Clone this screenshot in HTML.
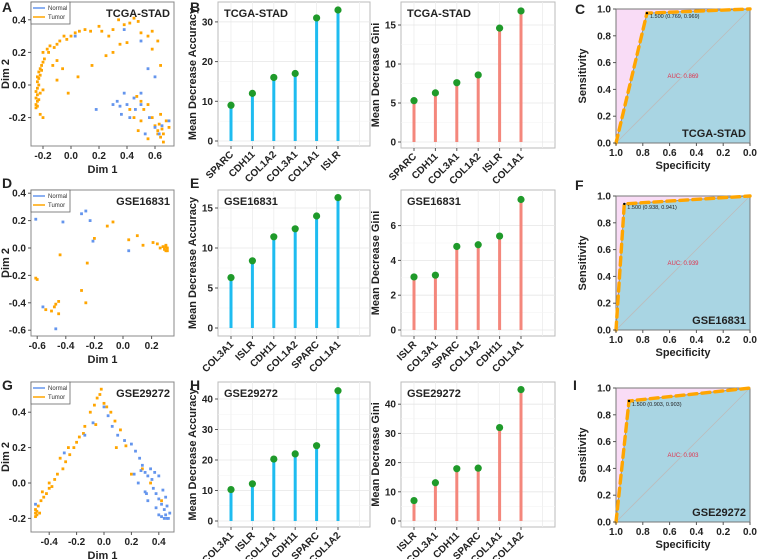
<!DOCTYPE html>
<html><head><meta charset="utf-8"><style>
body{margin:0;background:#fff}
svg{display:block;font-family:"Liberation Sans",Arial,sans-serif}
.t{font-weight:bold;fill:#222}
</style></head><body>
<svg id="fig" width="758" height="559" viewBox="0 0 758 559" xmlns="http://www.w3.org/2000/svg"></svg>
<script>
// ---------- data ----------
const catsB = ["SPARC","CDH11","COL1A2","COL3A1","COL1A1","ISLR"];
const valsB = [9,12,16,17,31,33];
const catsG1 = ["SPARC","CDH11","COL3A1","COL1A2","ISLR","COL1A1"];
const valsG1 = [5.3,6.3,7.6,8.6,14.6,16.8];
const catsE = ["COL3A1","ISLR","CDH11","COL1A2","SPARC","COL1A1"];
const valsE = [6.3,8.4,11.4,12.4,14,16.3];
const catsG2 = ["ISLR","COL3A1","SPARC","COL1A2","CDH11","COL1A1"];
const valsG2 = [3.05,3.15,4.8,4.9,5.4,7.5];
const catsH = ["COL3A1","ISLR","COL1A1","CDH11","SPARC","COL1A2"];
const valsH = [10.3,12.2,20.3,22,24.7,42.7];
const catsG3 = ["ISLR","COL3A1","CDH11","SPARC","COL1A1","COL1A2"];
const valsG3 = [7,13.1,17.9,18.1,32,45];
const ticksB=[0,10,20,30], ticksG1=[0,5,10,15], ticksE=[0,5,10,15], ticksG2=[0,2,4,6], ticksH=[0,10,20,30,40], ticksG3=[0,10,20,30,40];
const rocC_spec=[1,0.769,0], rocC_sens=[0,0.969,1];
const rocF_spec=[1,0.938,0], rocF_sens=[0,0.941,1];
const rocI_spec=[1,0.903,0], rocI_sens=[0,0.903,1];
const rocTicks=[0,0.2,0.4,0.6,0.8,1.0];
const tumorA=[[-0.25,-0.14],[-0.25,-0.12],[-0.24,-0.1],[-0.25,-0.08],[-0.24,-0.06],[-0.25,-0.04],[-0.24,-0.02],[-0.23,0],[-0.24,0.02],[-0.23,0.04],[-0.22,0.06],[-0.23,0.08],[-0.22,0.1],[-0.21,0.12],[-0.2,0.14],[-0.19,0.16],[-0.2,0.2],[-0.17,0.22],[-0.15,0.24],[-0.12,0.23],[-0.1,0.25],[-0.08,0.27],[-0.05,0.3],[-0.03,0.28],[0,0.3],[0.03,0.32],[0.06,0.33],[0.1,0.34],[0.14,0.33],[0.2,0.36],[0.22,0.33],[0.27,0.3],[0.3,0.34],[0.34,0.4],[0.38,0.37],[0.42,0.38],[0.45,0.41],[0.48,0.39],[0.5,0.32],[0.55,0.3],[0.58,0.33],[0.62,0.27],[0.64,0.12],[0.58,0.22],[0.4,0.26],[0.3,0.2],[0.25,0.18],[-0.1,0.15],[-0.13,0.12],[-0.06,0.1],[0.05,0.05],[-0.1,0.03],[-0.2,-0.03],[-0.22,-0.18],[-0.2,-0.2],[-0.02,-0.05],[0.47,-0.07],[0.5,-0.1],[0.52,-0.15],[0.45,-0.2],[0.5,-0.22],[0.55,-0.12],[0.58,-0.2],[0.6,-0.25],[0.62,-0.3],[0.64,-0.32],[0.66,-0.3],[0.68,-0.22],[0.66,-0.35],[0.62,-0.28],[0.55,-0.33],[0.48,-0.28],[0.7,-0.26],[0.64,-0.18],[0.42,-0.15],[-0.16,0.2],[0.15,0.12],[0.35,0.25],[-0.24,-0.13],[-0.23,-0.09],[-0.22,-0.05],[-0.24,0.05],[-0.21,0.09],[0.63,-0.24],[0.65,-0.27]];
const normalA=[[0.03,0.3],[0.38,0.34],[0.5,0.27],[0.55,0.1],[0.6,0.05],[0.5,-0.05],[0.38,-0.05],[0.45,-0.08],[0.33,-0.1],[0.3,-0.12],[0.4,-0.12],[0.46,-0.15],[0.36,-0.18],[0.42,-0.2],[0.5,-0.12],[0.56,-0.2],[0.6,-0.26],[0.65,-0.25],[0.53,-0.3],[0.63,-0.3],[0.7,-0.22],[0.18,-0.15],[0.35,-0.13]];
const normalD=[[-0.61,0.21],[-0.42,0.19],[-0.29,0.25],[-0.26,0.27],[-0.23,0.2],[-0.21,0.05],[0.04,-0.02],[-0.56,-0.43],[-0.47,-0.59]];
const tumorD=[[-0.11,0.16],[-0.07,0.19],[-0.2,0.07],[0.04,0.06],[0.1,0.09],[0.14,0.02],[0.21,0.04],[0.24,0.03],[0.26,0],[0.28,0.01],[0.29,-0.01],[0.3,0.02],[0.3,-0.02],[0.31,0],[0.31,-0.02],[0.3,0.01],[-0.44,-0.05],[-0.25,-0.11],[-0.61,-0.22],[-0.6,-0.23],[-0.29,-0.31],[-0.26,-0.4],[-0.54,-0.45],[-0.5,-0.46],[-0.48,-0.43],[-0.47,-0.41],[-0.45,-0.39],[-0.45,-0.48]];
const tumorG=[[-0.5,-0.19],[-0.5,-0.17],[-0.49,-0.18],[-0.5,-0.15],[-0.48,-0.13],[-0.46,-0.1],[-0.44,-0.08],[-0.42,-0.06],[-0.4,-0.03],[-0.38,-0.02],[-0.36,0.02],[-0.34,0.05],[-0.3,0.08],[-0.28,0.12],[-0.25,0.16],[-0.22,0.2],[-0.2,0.23],[-0.18,0.26],[-0.15,0.28],[-0.14,0.32],[-0.1,0.4],[-0.07,0.44],[-0.05,0.48],[-0.03,0.5],[-0.02,0.53],[0,0.45],[0.02,0.43],[0.05,0.4],[0.08,0.35],[0.12,0.3],[-0.26,0.2],[-0.32,0.14],[-0.4,0],[-0.45,-0.05],[0.09,0.2],[0.2,0.05],[0.28,0.08],[0.34,0.0],[0.42,-0.1],[-0.06,0.33],[0.16,0.21],[-0.49,-0.16],[-0.47,-0.17]];
const normalG=[[-0.5,-0.12],[-0.29,0.17],[-0.14,0.27],[-0.08,0.34],[0.0,0.43],[0.03,0.38],[0.06,0.32],[0.1,0.27],[0.15,0.24],[0.2,0.22],[0.23,0.18],[0.26,0.14],[0.28,0.1],[0.3,0.06],[0.32,0.04],[0.35,0.02],[0.36,-0.03],[0.38,-0.06],[0.4,-0.09],[0.42,-0.12],[0.44,-0.15],[0.45,-0.18],[0.46,-0.2],[0.47,-0.2],[0.44,-0.2],[0.42,-0.19],[0.48,-0.17],[0.4,-0.18],[0.38,-0.14],[0.32,-0.1],[0.3,-0.05],[0.25,0.0],[0.34,0.08],[0.4,0.04],[0.45,-0.08],[0.46,-0.13],[0.43,-0.04],[0.37,0.06],[0.27,0.07],[0.22,0.05],[0.31,-0.06]];
const xTicksA=[-0.2,0,0.2,0.4,0.6], yTicksA=[-0.2,0,0.2,0.4];
const xTicksD=[-0.6,-0.4,-0.2,0,0.2], yTicksD=[-0.6,-0.4,-0.2,0,0.2,0.4];
const xTicksG=[-0.4,-0.2,0,0.2,0.4], yTicksG=[-0.2,0,0.2,0.4];

// ---------- helpers ----------
const svg=document.getElementById('fig');
const NS='http://www.w3.org/2000/svg';
function el(tag,attrs,parent,text){const e=document.createElementNS(NS,tag);for(const k in attrs)e.setAttribute(k,attrs[k]);if(text!==undefined)e.textContent=text;(parent||svg).appendChild(e);return e;}
function fmt(v){return v.toFixed(1);}

function panelLabel(ch,x,y){const t=el('text',{x:x,y:y,'font-size':14,class:'t'},svg,ch);

}

function scatter(o){
  const g=el('g',{});
  
  
  const X=v=>o.x0+v*o.kx, Y=v=>o.y0-v*o.ky;
  el('rect',{x:o.L,y:o.T,width:o.R-o.L,height:o.B-o.T,fill:'#fff',stroke:'#888','stroke-width':1},g);
  o.xt.forEach(v=>{el('line',{x1:X(v),x2:X(v),y1:o.B,y2:o.B+3,stroke:'#555'},g);
    const t=el('text',{x:X(v),y:o.B+13,'font-size':10,'text-anchor':'middle',class:'t'},g,fmt(v));
    });
  o.yt.forEach(v=>{el('line',{x1:o.L-3,x2:o.L,y1:Y(v),y2:Y(v),stroke:'#555'},g);
    const t=el('text',{x:o.L-5,y:Y(v)+3.5,'font-size':10,'text-anchor':'end',class:'t'},g,fmt(v));
    });
  o.tumor.forEach(p=>{const c=el('rect',{x:X(p[0])-1.4,y:Y(p[1])-1.4,width:2.8,height:2.8,fill:'#FFA500'},g);
    });
  o.normal.forEach(p=>{const c=el('rect',{x:X(p[0])-1.4,y:Y(p[1])-1.4,width:2.8,height:2.8,fill:'#6495ED'},g);
    });
  const lg=el('g',{},g);
  
  el('rect',{x:o.L,y:o.T,width:39,height:22,fill:'#fff',stroke:'#666','stroke-width':0.8},lg);
  el('line',{x1:o.L+2,x2:o.L+14,y1:o.T+6,y2:o.T+6,stroke:'#6495ED','stroke-width':1.5},lg);
  el('line',{x1:o.L+2,x2:o.L+14,y1:o.T+15,y2:o.T+15,stroke:'#FFA500','stroke-width':1.5},lg);
  el('text',{x:o.L+17,y:o.T+8,'font-size':6,fill:'#333'},lg,'Normal');
  el('text',{x:o.L+17,y:o.T+17,'font-size':6,fill:'#333'},lg,'Tumor');
  const tt=el('text',{x:o.R-4,y:o.T+15,'font-size':11,'text-anchor':'end',class:'t'},g,o.title);
  
  const xl=el('text',{x:(o.L+o.R)/2,y:o.B+27,'font-size':11,'text-anchor':'middle',class:'t'},g,'Dim 1');
  
  const yl=el('text',{x:0,y:0,'font-size':11,'text-anchor':'middle',class:'t',transform:`translate(9,${(o.T+o.B)/2}) rotate(-90)`},g,'Dim 2');
  
}

function lollipop(o){
  const g=el('g',{});
  
  
  const Y=v=>o.y0-v*o.ky, X=i=>o.L+13+i*21.4;
  el('rect',{x:o.L,y:o.T,width:o.R-o.L,height:o.B-o.T,fill:'#fff',stroke:'#bbb','stroke-width':1},g);
  for(let i=0;i<7;i++){el('line',{x1:X(i),x2:X(i),y1:o.T,y2:o.B,stroke:'#ececec','stroke-width':0.8},g);}
  o.ticks.forEach((v,i)=>{el('line',{x1:o.L,x2:o.R,y1:Y(v),y2:Y(v),stroke:'#e6e6e6','stroke-width':0.8},g);
    if(i<o.ticks.length-1){const m=(v+o.ticks[i+1])/2;el('line',{x1:o.L,x2:o.R,y1:Y(m),y2:Y(m),stroke:'#f3f3f3','stroke-width':0.6},g);}
    el('line',{x1:o.L-3,x2:o.L,y1:Y(v),y2:Y(v),stroke:'#555'},g);
    const t=el('text',{x:o.L-5,y:Y(v)+3.5,'font-size':10,'text-anchor':'end',class:'t'},g,String(v));
    });
  o.cats.forEach((c,i)=>{
    el('line',{x1:X(i),x2:X(i),y1:o.B,y2:o.B+3,stroke:'#555'},g);
    const t=el('text',{x:0,y:0,'font-size':10,'text-anchor':'end',class:'t',transform:`translate(${X(i)+3},${o.B+9}) rotate(-45)`},g,c);
    
    const s=el('line',{x1:X(i),x2:X(i),y1:Y(0),y2:Y(o.vals[i]),stroke:o.color,'stroke-width':3},g);
    
    const d=el('circle',{cx:X(i),cy:Y(o.vals[i]),r:3.6,fill:'#1f9a2a'},g);
    
  });
  const tt=el('text',{x:o.L+6,y:o.T+15,'font-size':11,class:'t'},g,o.title);
  
  const yl=el('text',{x:0,y:0,'font-size':11,'text-anchor':'middle',class:'t',transform:`translate(${o.L-22},${(o.T+o.B)/2}) rotate(-90)`},g,o.ylab);
  
}

function roc(o){
  const g=el('g',{});
  
  
  const L=616,R=750;
  const X=v=>R-(R-L)*v, Y=v=>o.B-(o.B-o.T)*v;
  el('rect',{x:L,y:o.T,width:R-L,height:o.B-o.T,fill:'#f9dcf6'},g);
  let pts=o.spec.map((s,i)=>X(s)+','+Y(o.sens[i])).join(' ');
  el('polygon',{points:pts+' '+X(0)+','+Y(0),fill:'#a9d5e3'},g);
  el('rect',{x:L,y:o.T,width:R-L,height:o.B-o.T,fill:'none',stroke:'#777','stroke-width':1},g);
  el('line',{x1:X(1),y1:Y(0),x2:X(0),y2:Y(1),stroke:'#bcbcbc','stroke-width':0.8},g);
  el('polyline',{points:pts,fill:'none',stroke:'#7f8fb0','stroke-width':1},g);
  const c=el('polyline',{points:pts,fill:'none',stroke:'#FFA500','stroke-width':3.4,'stroke-dasharray':'8,5','stroke-linecap':'round'},g);
  
  const px=X(o.spec[1]),py=Y(o.sens[1]);
  el('circle',{cx:px,cy:py,r:1.2,fill:'#000'},g);
  el('text',{x:px+3,y:py+5,'font-size':5.5,fill:'#222'},g,`1.500 (${o.spec[1].toFixed(3)}, ${o.sens[1].toFixed(3)})`);
  const a=el('text',{x:(L+R)/2,y:(o.T+o.B)/2+2,'font-size':6,fill:'#e0314b','text-anchor':'middle'},g,'AUC: '+o.auc);
  
  rocTicks.forEach(v=>{
    el('line',{x1:X(v),x2:X(v),y1:o.B,y2:o.B+3,stroke:'#555'},g);
    el('line',{x1:L-3,x2:L,y1:Y(v),y2:Y(v),stroke:'#555'},g);
    const tx=el('text',{x:X(v),y:o.B+13,'font-size':10,'text-anchor':'middle',class:'t'},g,v.toFixed(1));
    
    const ty=el('text',{x:L-5,y:Y(v)+3.5,'font-size':10,'text-anchor':'end',class:'t'},g,v.toFixed(1));
    
  });
  const tt=el('text',{x:R-4,y:o.B-6,'font-size':11,'text-anchor':'end',class:'t'},g,o.title);
  
  const xl=el('text',{x:(L+R)/2,y:o.B+26,'font-size':11,'text-anchor':'middle',class:'t'},g,'Specificity');
  
  const yl=el('text',{x:0,y:0,'font-size':11,'text-anchor':'middle',class:'t',transform:`translate(586,${(o.T+o.B)/2}) rotate(-90)`},g,'Sensitivity');
  
}

scatter({name:'panel-a-mds-plot',L:31,R:174,T:2,B:146,x0:71,kx:140,y0:85,ky:163,xt:xTicksA,yt:yTicksA,tumor:tumorA,normal:normalA,title:'TCGA-STAD'});
lollipop({name:'panel-b-accuracy',L:218,R:370,T:2,B:146,y0:141,ky:3.97,ticks:ticksB,cats:catsB,vals:valsB,color:'#1ebcf0',title:'TCGA-STAD',ylab:'Mean Decrease Accuracy'});
lollipop({name:'panel-b-gini',L:401,R:555,T:2,B:148,y0:142,ky:7.8,ticks:ticksG1,cats:catsG1,vals:valsG1,color:'#f4877c',title:'TCGA-STAD',ylab:'Mean Decrease Gini'});
roc({name:'panel-c-roc',T:9,B:143,spec:rocC_spec,sens:rocC_sens,auc:'0.869',title:'TCGA-STAD'});
scatter({name:'panel-d-mds-plot',L:31,R:174,T:190,B:336,x0:123,kx:143,y0:248,ky:137,xt:xTicksD,yt:yTicksD,tumor:tumorD,normal:normalD,title:'GSE16831'});
lollipop({name:'panel-e-accuracy',L:218,R:370,T:190,B:336,y0:328,ky:8.0,ticks:ticksE,cats:catsE,vals:valsE,color:'#1ebcf0',title:'GSE16831',ylab:'Mean Decrease Accuracy'});
lollipop({name:'panel-e-gini',L:401,R:555,T:190,B:336,y0:330,ky:17.4,ticks:ticksG2,cats:catsG2,vals:valsG2,color:'#f4877c',title:'GSE16831',ylab:'Mean Decrease Gini'});
roc({name:'panel-f-roc',T:196,B:330,spec:rocF_spec,sens:rocF_sens,auc:'0.939',title:'GSE16831'});
scatter({name:'panel-g-mds-plot',L:31,R:174,T:382,B:532,x0:104,kx:137,y0:483,ky:177,xt:xTicksG,yt:yTicksG,tumor:tumorG,normal:normalG,title:'GSE29272'});
lollipop({name:'panel-h-accuracy',L:218,R:370,T:382,B:527,y0:521,ky:3.05,ticks:ticksH,cats:catsH,vals:valsH,color:'#1ebcf0',title:'GSE29272',ylab:'Mean Decrease Accuracy'});
lollipop({name:'panel-h-gini',L:401,R:555,T:382,B:527,y0:521,ky:2.92,ticks:ticksG3,cats:catsG3,vals:valsG3,color:'#f4877c',title:'GSE29272',ylab:'Mean Decrease Gini'});
roc({name:'panel-i-roc',T:388,B:522,spec:rocI_spec,sens:rocI_sens,auc:'0.903',title:'GSE29272'});

panelLabel('A',2,12);panelLabel('B',190,12);panelLabel('C',575,14);
panelLabel('D',2,188);panelLabel('E',190,188);panelLabel('F',575,190);
panelLabel('G',2,390);panelLabel('H',190,390);panelLabel('I',573,390);
</script>
</body></html>
